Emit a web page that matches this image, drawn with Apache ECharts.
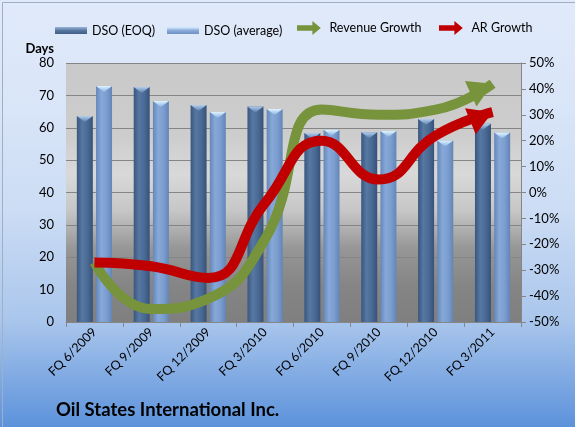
<!DOCTYPE html>
<html><head><meta charset="utf-8">
<script src="https://cdn.jsdelivr.net/npm/echarts@6/dist/echarts.min.js"></script>
<style>html,body{margin:0;padding:0;background:#fff}#c{width:575px;height:427px}</style>
</head><body><div id="c"></div>
<script>
const categories = ['FQ 6/2009','FQ 9/2009','FQ 12/2009','FQ 3/2010','FQ 6/2010','FQ 9/2010','FQ 12/2010','FQ 3/2011'];
const dsoEOQ = [63.6, 72.6, 67.0, 66.6, 58.4, 58.6, 62.7, 61.2];
const dsoAvg = [72.9, 68.3, 64.9, 65.8, 59.4, 59.0, 56.1, 58.5];
const revenueGrowth = [-27, -45, -41, -18, 32, 30, 32, 42];
const arGrowth = [-27, -28.5, -33, -4, 20, 5, 22, 31];
const daysTicks = {min: 0, max: 80, interval: 10};
const pctTicks = {min: -50, max: 50, interval: 10};
const title = 'Oil States International Inc.';

const FONT = 'Lato';
const ARROW = 'path://M0,0 L24,14 L0,28 Z';
const LEG_ARROW = 'path://M0,8 L22,8 L22,2 L34,12 L22,22 L22,16 L0,16 Z';

function lin(x2, y2, stops) {
  return {type: 'linear', x: 0, y: 0, x2: x2, y2: y2,
    colorStops: stops.map((c, i) => ({offset: i / (stops.length - 1), color: c}))};
}
const darkBar = lin(1, 0, ['#3a567e', '#5678a3', '#4a6a94', '#36527a']);
const lightBar = lin(1, 0, ['#6487b9', '#87a9d9', '#7b9dcf', '#6285b6']);
const darkCap = lin(0, 1, ['#b3cdec', '#5a7faa']);
const lightCap = lin(0, 1, ['#dff4ff', '#8db3e0']);

const chart = echarts.init(document.getElementById('c'), null, {renderer: 'canvas'});

const legText = {fontFamily: FONT, fontSize: 12.5, color: '#000'};
function barLegend(name, left, grad) {
  return {left: left, top: 19, itemWidth: 32, itemHeight: 7, itemGap: 0, textStyle: legText,
    data: [{name: name, icon: 'rect', itemStyle: {color: grad}}]};
}
function lineLegend(name, left) {
  return {left: left, top: 16, itemWidth: 31, itemHeight: 14, itemGap: 0, textStyle: legText,
    data: [{name: name, icon: LEG_ARROW}]};
}

const option = {
  animation: false,
  backgroundColor: lin(0, 1, ['#e0eafa', '#d9e5f8', '#cbdcf4', '#aac6ec', '#5c92db']),
  textStyle: {fontFamily: FONT},
  graphic: [{
    type: 'rect', left: 0, top: 0, z: 100, silent: true,
    shape: {width: 574, height: 426},
    style: {fill: 'none', stroke: '#9fb0c4', lineWidth: 1}
  }],
  title: {
    text: title, left: 51, top: 396,
    textStyle: {fontFamily: FONT, fontSize: 18.5, fontWeight: 'bold', color: '#000'}
  },
  legend: [
    barLegend('DSO (EOQ)', 50, lin(0, 1, ['#9bb5d8', '#56779f', '#3f5d86'])),
    barLegend('DSO (average)', 162, lin(0, 1, ['#d6efff', '#8aabda', '#6d90c2'])),
    lineLegend('Revenue Growth', 292),
    lineLegend('AR Growth', 434)
  ],
  grid: {
    left: 66, right: 54, top: 63, bottom: 105,
    show: true, borderWidth: 0,
    backgroundColor: lin(0, 1, ['#c9c9c9', '#cbcbcb', '#cdcdcd', '#d9d9d9', '#c6c6c6', '#979797', '#858585', '#7f7f7f']),
    containLabel: false
  },
  xAxis: {
    type: 'category', data: categories, boundaryGap: true,
    axisLine: {show: true, lineStyle: {color: '#868686', width: 1}},
    axisTick: {show: true, inside: false, length: 5, alignWithLabel: false, lineStyle: {color: '#868686'}},
    axisLabel: {rotate: 45, margin: 8, interval: 0, fontFamily: FONT, fontSize: 12.5, color: '#000'},
    splitLine: {show: false}
  },
  yAxis: [{
    type: 'value', min: daysTicks.min, max: daysTicks.max, interval: daysTicks.interval,
    name: 'Days', nameLocation: 'end', nameGap: 8,
    nameTextStyle: {fontFamily: FONT, fontSize: 13, fontWeight: 'bold', color: '#000', align: 'right', verticalAlign: 'bottom', padding: [0, 12, 0, 0]},
    axisLine: {show: false}, axisTick: {show: false},
    axisLabel: {margin: 12, fontFamily: FONT, fontSize: 13, color: '#000'},
    splitLine: {show: true, lineStyle: {color: '#858585', width: 1}}
  }, {
    type: 'value', position: 'right', min: pctTicks.min, max: pctTicks.max, interval: pctTicks.interval,
    axisLine: {show: true, lineStyle: {color: '#868686', width: 1}},
    axisTick: {show: true, inside: false, length: 5, lineStyle: {color: '#868686'}},
    axisLabel: {margin: 8, fontFamily: FONT, fontSize: 13, color: '#000', formatter: '{value}%'},
    splitLine: {show: false}
  }],
  series: [
    {type: 'bar', name: 'DSO (EOQ)', data: dsoEOQ, barWidth: 16, barGap: '20%', itemStyle: {color: darkBar}, z: 2},
    {type: 'bar', name: 'DSO (average)', data: dsoAvg, barWidth: 16, barGap: '20%', itemStyle: {color: lightBar}, z: 2},
    {type: 'pictorialBar', name: 'capEOQ', data: dsoEOQ, barWidth: 16, barGap: '20%', silent: true,
     symbol: 'path://M0,0 L20,0 L10,6 Z', symbolSize: ['100%', 6], symbolPosition: 'end',
     itemStyle: {color: darkCap}, z: 3},
    {type: 'pictorialBar', name: 'capAvg', data: dsoAvg, barWidth: 16, barGap: '20%', silent: true,
     symbol: 'path://M0,0 L20,0 L10,6 Z', symbolSize: ['100%', 6], symbolPosition: 'end',
     itemStyle: {color: lightCap}, z: 3},
    {type: 'line', name: 'Revenue Growth', yAxisIndex: 1, data: revenueGrowth.slice(), smooth: 0.5,
     symbol: 'none', showSymbol: true, lineStyle: {color: '#77933c', width: 10}, itemStyle: {color: '#77933c'}, z: 4},
    {type: 'line', name: 'AR Growth', yAxisIndex: 1, data: arGrowth.slice(), smooth: 0.5,
     symbol: 'none', showSymbol: true, lineStyle: {color: '#c00000', width: 10}, itemStyle: {color: '#c00000'}, z: 5}
  ]
};
chart.setOption(option);

function withArrow(values, seriesIndex) {
  const n = values.length;
  const p1 = chart.convertToPixel({seriesIndex: seriesIndex}, [n - 2, values[n - 2]]);
  const p2 = chart.convertToPixel({seriesIndex: seriesIndex}, [n - 1, values[n - 1]]);
  const dx = p2[0] - p1[0], dy = p2[1] - p1[1];
  const len = Math.hypot(dx, dy);
  const ux = dx / len, uy = dy / len;
  const ang = -Math.atan2(dy, dx) * 180 / Math.PI;
  const L = 24, W = 28;
  return values.map((v, i) => i < n - 1 ? v : {
    value: v, symbol: ARROW, symbolSize: [L, W], symbolRotate: ang,
    symbolOffset: [-ux * L / 2, -uy * L / 2], symbolKeepAspect: false
  });
}
chart.setOption({series: [{}, {}, {}, {}, {data: withArrow(revenueGrowth, 4)}, {data: withArrow(arGrowth, 5)}]});
</script>
</body></html>
